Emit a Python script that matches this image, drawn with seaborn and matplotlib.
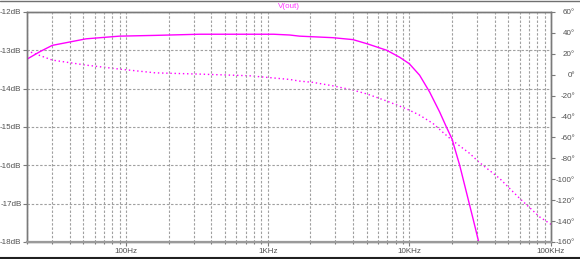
import matplotlib
matplotlib.use("Agg")
import matplotlib.pyplot as plt
import matplotlib.ticker as mticker
from matplotlib.lines import Line2D
import seaborn as sns
import pandas as pd
import numpy as np

# ---- data ----
mag_freq = [20, 24.8, 30.2, 40.4, 52.2, 89.7, 161, 330, 1099, 1427, 1679, 2884,
            3993, 5048, 6944, 8540, 10000, 11823, 13918, 16374, 18262, 20000,
            22675, 25280, 28150, 30890]
mag_db = [-13.23, -13.03, -12.87, -12.78, -12.70, -12.63, -12.61, -12.58, -12.58,
          -12.60, -12.63, -12.67, -12.72, -12.83, -13.00, -13.18, -13.35, -13.65,
          -14.09, -14.61, -15.00, -15.31, -16.00, -16.70, -17.39, -18.00]

ph_freq = [20, 30.2, 52.2, 89.7, 161, 330, 743, 1427, 1679, 2083, 2884, 3993,
           5048, 6944, 8540, 10000, 11823, 14683, 17282, 20000, 22675, 26690,
           30890, 43450, 60200, 83320, 100000]
ph_deg = [22.9, 14.0, 9.2, 5.4, 1.8, 0.6, -1.0, -4.5, -6.1, -7.3, -10.6, -14.7,
          -18.5, -25.2, -30.0, -33.9, -38.7, -46.6, -55.2, -62.6, -68.1, -75.3,
          -83.4, -99.3, -118.4, -136.1, -143.1]

x_major = [100, 1000, 10000, 100000]
x_major_labels = ["100Hz", "1KHz", "10KHz", "100KHz"]
db_ticks = [-12, -13, -14, -15, -16, -17, -18]
deg_ticks = [60, 40, 20, 0, -20, -40, -60, -80, -100, -120, -140, -160]

title = "V(out)"

# ---- styling ----
sns.set_theme(style="white")
plt.rcParams['font.family'] = ['Liberation Sans', 'DejaVu Sans']

line_col = "#ff00ff"
lab_col = "#505050"
spine_col = "#7a7a7a"
grid_col = "#a0a0a0"
fs = 5.8

fig = plt.figure(figsize=(5.8, 2.59), dpi=100)
fig.patch.set_facecolor("white")
ax = fig.add_axes([27/580, 1-242/259, (551-27)/580, (242-12)/259])
ax2 = ax.twinx()

mag_df = pd.DataFrame({"f": mag_freq, "db": mag_db})
ph_df = pd.DataFrame({"f": ph_freq, "deg": ph_deg})

sns.lineplot(data=mag_df, x="f", y="db", ax=ax, color=line_col, lw=1.0, sort=False)
sns.lineplot(data=ph_df, x="f", y="deg", ax=ax2, color=line_col, lw=1.0,
             linestyle=(0, (1, 2)), sort=False)

for a in (ax, ax2):
    a.set_xscale("log")
    a.set_xlim(20, 100000)
    a.set_xlabel("")
    a.set_ylabel("")
    a.set_facecolor("white")

ax.set_ylim(-18, -12)
ax2.set_ylim(-160, 60)

ax.xaxis.set_major_locator(mticker.FixedLocator(x_major))
ax.xaxis.set_major_formatter(mticker.FixedFormatter(x_major_labels))
ax.xaxis.set_minor_locator(mticker.LogLocator(base=10, subs=np.arange(2, 10)))
ax.xaxis.set_minor_formatter(mticker.NullFormatter())

ax.set_yticks(db_ticks)
ax.set_yticklabels([f"{v}dB" for v in db_ticks])
ax2.set_yticks(deg_ticks)
ax2.set_yticklabels([f"{v}°" for v in deg_ticks])

ax.tick_params(axis="x", which="major", direction="out", length=3, width=0.8,
               color=spine_col, labelsize=fs, labelcolor=lab_col, pad=1.5, bottom=True)
ax.tick_params(axis="x", which="minor", direction="out", length=1.5, width=0.8,
               color=spine_col, bottom=True)
ax.tick_params(axis="y", direction="out", length=3, width=0.8, color=spine_col,
               labelsize=fs, labelcolor=lab_col, pad=1, left=True)
ax2.tick_params(axis="y", direction="out", length=3, width=0.8, color=spine_col,
                labelsize=fs, labelcolor=lab_col, pad=14.3, right=True)
for lbl in ax2.get_yticklabels():
    lbl.set_horizontalalignment("right")

ax.grid(True, which="both", axis="x", color=grid_col, linestyle=(0, (2.2, 1.6)), lw=0.8)
ax.grid(True, which="major", axis="y", color=grid_col, linestyle=(0, (2.2, 1.6)), lw=0.8)
ax.set_axisbelow(True)

for a in (ax, ax2):
    for s in a.spines.values():
        s.set_color(spine_col)
        s.set_linewidth(1.0)
ax.spines["bottom"].set_linewidth(1.6)
ax.spines["bottom"].set_color("#9a9a9a")

ax.set_zorder(ax2.get_zorder() + 1)
ax.patch.set_visible(False)
ax2.patch.set_visible(True)

fig.text(288.5/580, 1-6/259, title, color="#ff33ff", fontsize=fs, ha="center", va="center")

# outer frame lines
fig.add_artist(Line2D([0, 1], [1-0.5/259, 1-0.5/259], color="#707070", lw=1.0,
                      transform=fig.transFigure))
fig.add_artist(Line2D([0, 1], [1/259, 1/259], color="#202020", lw=1.5,
                      transform=fig.transFigure))

fig.savefig("out.png", dpi=100, facecolor="white")
